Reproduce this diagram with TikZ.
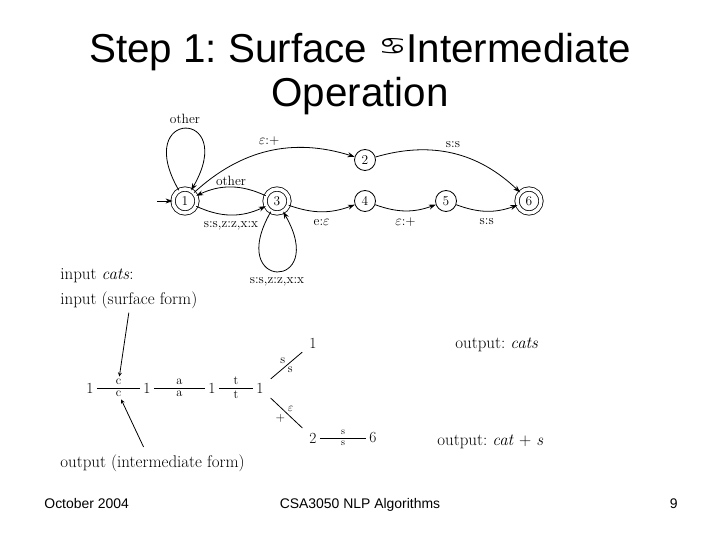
\documentclass[tikz,border=0pt]{standalone}
\usepackage{fontspec}
\usepackage{amsmath,amssymb}
\newfontfamily\slidefont{Liberation Sans}
\newfontfamily\symfont{DejaVu Sans}
\usetikzlibrary{positioning, arrows.meta}
\frenchspacing
\tikzset{
    state/.style={circle, draw, minimum size=21bp, inner sep=0pt, font=\fontsize{13.5}{15}\selectfont},
    accept/.style={state, double, double distance=3.5bp, minimum size=24bp},
    lbl/.style={font=\fontsize{13.5}{15}\selectfont, inner sep=1bp},
    txt/.style={font=\fontsize{17}{20}\selectfont, anchor=base west, inner sep=0pt},
    num/.style={font=\fontsize{15.5}{18}\selectfont, inner sep=3bp},
    frac/.style={font=\fontsize{12.5}{14}\selectfont, inner sep=2.5bp},
    slide/.style={font=\slidefont\fontsize{14}{16}\selectfont, inner sep=0pt},
}

\begin{document}
\begin{tikzpicture}[x=1bp, y=1bp, thick, >={Stealth[length=7bp, width=5bp]}]
    \useasboundingbox (0,0) rectangle (720,-540);

    % Title
    \node[slide, font=\slidefont\fontsize{40.5}{44}\selectfont, anchor=base] (title) at (360,-63)
        {Step 1: Surface \raisebox{8bp}{\resizebox{28bp}{16bp}{\symfont ♋}}Intermediate};
    \node[slide, font=\slidefont\fontsize{40.5}{44}\selectfont, anchor=base] (title2) at (360,-107) {Operation};

    % States
    \node[accept] (q1) at (185,-201) {1};
    \node[state]  (q2) at (365,-160) {2};
    \node[accept] (q3) at (277,-201) {3};
    \node[state]  (q4) at (365,-201) {4};
    \node[state]  (q5) at (446,-201) {5};
    \node[accept] (q6) at (529,-201) {6};
    \coordinate (start) at (157,-201);

    % Transitions
    \draw[->] (start) -- (q1);
    \draw[->] (q1) to[out=120, in=60, min distance=95bp] node[lbl, above=4bp] {other} (q1);
    \draw[->] (q1) to[bend left=30] node[lbl, above=4bp] {$\varepsilon$:+} (q2);
    \draw[->] (q2) to[bend left=30] node[lbl, above=4bp] {s:s} (q6);
    \draw[->] (q3) to[bend right=25] node[lbl, above] {other} (q1);
    \draw[->] (q1) to[bend right=25] node[lbl, below=5bp] {s:s,z:z,x:x} (q3);
    \draw[->] (q3) to[out=240, in=300, min distance=92bp] node[lbl, below=5bp] {s:s,z:z,x:x} (q3);
    \draw[->] (q3) to[bend right=20] node[lbl, below=6bp] {e:$\varepsilon$} (q4);
    \draw[->] (q4) to[bend right=20] node[lbl, below=6bp] {$\varepsilon$:+} (q5);
    \draw[->] (q5) to[bend right=20] node[lbl, below=6bp] {s:s} (q6);

    % Input and output
    \node[txt] (incats) at (60,-280) {input \textit{cats}:};
    \node[txt] (insurf) at (60,-304) {input (surface form)};
    \node[txt] (outint) at (60,-467) {output (intermediate form)};
    \node[txt] (outcats) at (455,-348) {output: \textit{cats}};
    \node[txt] (outcat) at (437,-445) {output: \textit{cat} + \textit{s}};

    % Path through the transducer
    \node[num] (n1) at (90,-388) {1};
    \node[num] (n2) at (147,-388) {1};
    \node[num] (n3) at (212,-388) {1};
    \node[num] (n4) at (260,-388) {1};
    \node[num] (n5) at (313,-343) {1};
    \node[num] (n6) at (313,-438) {2};
    \node[num] (n7) at (373,-438) {6};

    \draw (n1) -- node[frac, above] (ca) {c} node[frac, below] (cb) {c} (n2);
    \draw (n2) -- node[frac, above] (aa) {a} node[frac, below] (ab) {a} (n3);
    \draw (n3) -- node[frac, above] (ta) {t} node[frac, below] (tb) {t} (n4);
    \draw[shorten <=5bp, shorten >=5bp] (n4) -- node[frac, above left, inner sep=1bp] {s} node[frac, below right, inner sep=1bp] {s} (n5);
    \draw[shorten <=5bp, shorten >=5bp] (n4) -- node[frac, above right, inner sep=1bp] {$\varepsilon$} node[frac, below left, inner sep=1bp] {+} (n6);
    \draw (n6) -- node[frac, above, inner sep=2.5bp, font=\fontsize{10}{12}\selectfont] {s} node[frac, below, inner sep=2.5bp, font=\fontsize{10}{12}\selectfont] {s} (n7);

    % Pointers
    \draw[->, >=stealth] ([yshift=-4bp]insurf.south) -- (ca);
    \draw[->, >=stealth] ([xshift=-9bp, yshift=7bp]outint.north) -- (cb);

    % Footer
    \node[slide, anchor=base west] (date) at (44,-508) {October 2004};
    \node[slide, anchor=base] (course) at (360,-508) {CSA3050 NLP Algorithms};
    \node[slide, anchor=base east] (page) at (678,-508) {9};
\end{tikzpicture}
\end{document}
